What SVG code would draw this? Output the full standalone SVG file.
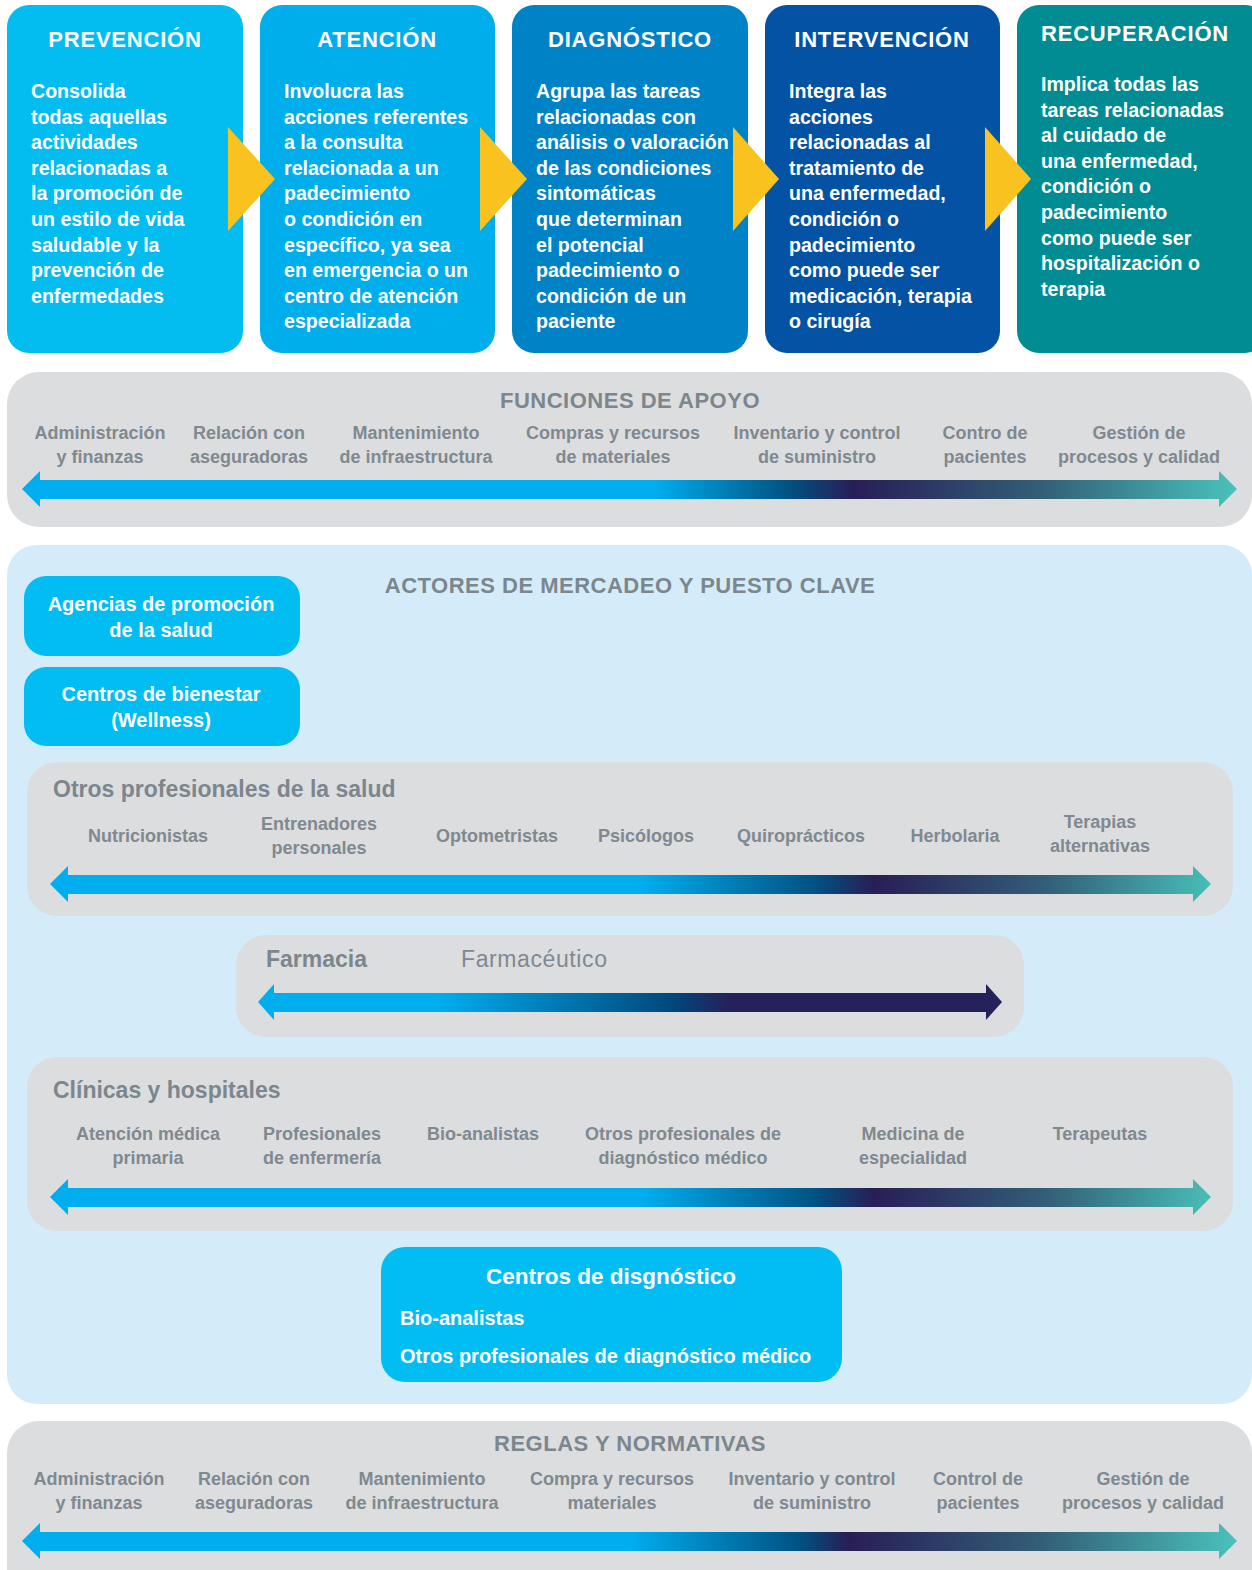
<svg xmlns="http://www.w3.org/2000/svg" width="1252" height="1570" viewBox="0 0 1252 1570">
<defs>
<style>
text{font-family:"Liberation Sans",Arial,sans-serif;}
.bt{font-weight:bold;font-size:22px;fill:#fff;letter-spacing:0.8px;text-anchor:middle}
.bb{font-weight:bold;font-size:19.6px;fill:#fff}
.st{font-weight:bold;font-size:22px;fill:#7B868D;letter-spacing:0.5px;text-anchor:middle}
.lb{font-weight:bold;font-size:18px;fill:#7F8990;text-anchor:middle}
.gt{font-weight:bold;font-size:23px;fill:#7B868D}
.pl{font-weight:bold;font-size:20px;fill:#fff;text-anchor:middle}
.panel{fill:#DCDDDF}
.yel{fill:#F9C21F}
</style>
<linearGradient id="gFun" gradientUnits="userSpaceOnUse" x1="22" y1="0" x2="1237" y2="0">
<stop offset="0" stop-color="#00AEEF"/><stop offset="0.52" stop-color="#00AEEF"/><stop offset="0.63" stop-color="#005283"/><stop offset="0.685" stop-color="#281E56"/><stop offset="0.84" stop-color="#335F78"/><stop offset="1" stop-color="#4AC2BB"/>
</linearGradient>
<linearGradient id="gOtr" gradientUnits="userSpaceOnUse" x1="50" y1="0" x2="1210" y2="0">
<stop offset="0" stop-color="#00AEEF"/><stop offset="0.51" stop-color="#00AEEF"/><stop offset="0.66" stop-color="#005283"/><stop offset="0.71" stop-color="#281E56"/><stop offset="0.86" stop-color="#335F78"/><stop offset="1" stop-color="#48BDB7"/>
</linearGradient>
<linearGradient id="gFar" gradientUnits="userSpaceOnUse" x1="258" y1="0" x2="1002" y2="0">
<stop offset="0" stop-color="#00AEEF"/><stop offset="0.24" stop-color="#00AEEF"/><stop offset="0.56" stop-color="#00477A"/><stop offset="0.63" stop-color="#25215B"/><stop offset="1" stop-color="#25215B"/>
</linearGradient>
<linearGradient id="gReg" gradientUnits="userSpaceOnUse" x1="22" y1="0" x2="1237" y2="0">
<stop offset="0" stop-color="#00AEEF"/><stop offset="0.5" stop-color="#00AEEF"/><stop offset="0.64" stop-color="#005283"/><stop offset="0.68" stop-color="#281E56"/><stop offset="0.84" stop-color="#335F78"/><stop offset="1" stop-color="#4AC2BB"/>
</linearGradient>
</defs>
<rect width="1252" height="1570" fill="#fff"/>

<!-- Top stage boxes -->
<g id="prevencion">
<rect x="7" y="5" width="236" height="348" rx="22" fill="#03BDF0"/>
<text class="bt" x="125" y="47">PREVENCIÓN</text>
<text class="bb" x="31" y="98"><tspan x="31">Consolida</tspan><tspan x="31" dy="25.6">todas aquellas</tspan><tspan x="31" dy="25.6">actividades</tspan><tspan x="31" dy="25.6">relacionadas a</tspan><tspan x="31" dy="25.6">la promoción de</tspan><tspan x="31" dy="25.6">un estilo de vida</tspan><tspan x="31" dy="25.6">saludable y la</tspan><tspan x="31" dy="25.6">prevención de</tspan><tspan x="31" dy="25.6">enfermedades</tspan></text>
</g>
<g id="atencion">
<rect x="260" y="5" width="235" height="348" rx="22" fill="#00AEEB"/>
<text class="bt" x="377" y="47">ATENCIÓN</text>
<text class="bb" x="284" y="98"><tspan x="284">Involucra las</tspan><tspan x="284" dy="25.6">acciones referentes</tspan><tspan x="284" dy="25.6">a la consulta</tspan><tspan x="284" dy="25.6">relacionada a un</tspan><tspan x="284" dy="25.6">padecimiento</tspan><tspan x="284" dy="25.6">o condición en</tspan><tspan x="284" dy="25.6">específico, ya sea</tspan><tspan x="284" dy="25.6">en emergencia o un</tspan><tspan x="284" dy="25.6">centro de atención</tspan><tspan x="284" dy="25.6">especializada</tspan></text>
</g>
<g id="diagnostico">
<rect x="512" y="5" width="236" height="348" rx="22" fill="#0082C6"/>
<text class="bt" x="630" y="47">DIAGNÓSTICO</text>
<text class="bb" x="536" y="98"><tspan x="536">Agrupa las tareas</tspan><tspan x="536" dy="25.6">relacionadas con</tspan><tspan x="536" dy="25.6">análisis o valoración</tspan><tspan x="536" dy="25.6">de las condiciones</tspan><tspan x="536" dy="25.6">sintomáticas</tspan><tspan x="536" dy="25.6">que determinan</tspan><tspan x="536" dy="25.6">el potencial</tspan><tspan x="536" dy="25.6">padecimiento o</tspan><tspan x="536" dy="25.6">condición de un</tspan><tspan x="536" dy="25.6">paciente</tspan></text>
</g>
<g id="intervencion">
<rect x="765" y="5" width="235" height="348" rx="22" fill="#0352A3"/>
<text class="bt" x="882" y="47">INTERVENCIÓN</text>
<text class="bb" x="789" y="98"><tspan x="789">Integra las</tspan><tspan x="789" dy="25.6">acciones</tspan><tspan x="789" dy="25.6">relacionadas al</tspan><tspan x="789" dy="25.6">tratamiento de</tspan><tspan x="789" dy="25.6">una enfermedad,</tspan><tspan x="789" dy="25.6">condición o</tspan><tspan x="789" dy="25.6">padecimiento</tspan><tspan x="789" dy="25.6">como puede ser</tspan><tspan x="789" dy="25.6">medicación, terapia</tspan><tspan x="789" dy="25.6">o cirugía</tspan></text>
</g>
<g id="recuperacion">
<rect x="1017" y="5" width="250" height="348" rx="22" fill="#008C92"/>
<text class="bt" x="1135" y="41">RECUPERACIÓN</text>
<text class="bb" x="1041" y="91"><tspan x="1041">Implica todas las</tspan><tspan x="1041" dy="25.6">tareas relacionadas</tspan><tspan x="1041" dy="25.6">al cuidado de</tspan><tspan x="1041" dy="25.6">una enfermedad,</tspan><tspan x="1041" dy="25.6">condición o</tspan><tspan x="1041" dy="25.6">padecimiento</tspan><tspan x="1041" dy="25.6">como puede ser</tspan><tspan x="1041" dy="25.6">hospitalización o</tspan><tspan x="1041" dy="25.6">terapia</tspan></text>
</g>

<!-- Funciones de apoyo -->
<g id="funciones">
<rect class="panel" x="7" y="372" width="1245" height="155" rx="32"/>
<text class="st" x="630" y="408">FUNCIONES DE APOYO</text>
<text class="lb" y="439"><tspan x="100">Administración</tspan><tspan x="100" dy="24">y finanzas</tspan></text>
<text class="lb" y="439"><tspan x="249">Relación con</tspan><tspan x="249" dy="24">aseguradoras</tspan></text>
<text class="lb" y="439"><tspan x="416">Mantenimiento</tspan><tspan x="416" dy="24">de infraestructura</tspan></text>
<text class="lb" y="439"><tspan x="613">Compras y recursos</tspan><tspan x="613" dy="24">de materiales</tspan></text>
<text class="lb" y="439"><tspan x="817">Inventario y control</tspan><tspan x="817" dy="24">de suministro</tspan></text>
<text class="lb" y="439"><tspan x="985">Contro de</tspan><tspan x="985" dy="24">pacientes</tspan></text>
<text class="lb" y="439"><tspan x="1139">Gestión de</tspan><tspan x="1139" dy="24">procesos y calidad</tspan></text>
</g>

<!-- Actores de mercadeo -->
<g id="actores">
<rect x="7" y="545" width="1245" height="859" rx="30" fill="#D4ECF9"/>
<text class="st" x="630" y="593">ACTORES DE MERCADEO Y PUESTO CLAVE</text>
</g>
<g id="agencias">
<rect x="24" y="576" width="276" height="80" rx="22" fill="#02BDF1"/>
<text class="pl" y="611"><tspan x="161">Agencias de promoción</tspan><tspan x="161" dy="25.5">de la salud</tspan></text>
</g>
<g id="centros-bienestar">
<rect x="24" y="667" width="276" height="79" rx="22" fill="#02BDF1"/>
<text class="pl" y="701"><tspan x="161">Centros de bienestar</tspan><tspan x="161" dy="26">(Wellness)</tspan></text>
</g>
<g id="otros-profesionales">
<rect class="panel" x="27" y="762" width="1206" height="154" rx="30"/>
<text class="gt" x="53" y="797">Otros profesionales de la salud</text>
<text class="lb" x="148" y="842">Nutricionistas</text>
<text class="lb" y="830"><tspan x="319">Entrenadores</tspan><tspan x="319" dy="24">personales</tspan></text>
<text class="lb" x="497" y="842">Optometristas</text>
<text class="lb" x="646" y="842">Psicólogos</text>
<text class="lb" x="801" y="842">Quiroprácticos</text>
<text class="lb" x="955" y="842">Herbolaria</text>
<text class="lb" y="828"><tspan x="1100">Terapias</tspan><tspan x="1100" dy="24">alternativas</tspan></text>
</g>
<g id="farmacia">
<rect class="panel" x="236" y="935" width="788" height="102" rx="30"/>
<text class="gt" x="266" y="967">Farmacia</text>
<text x="461" y="967" style="font-size:23px;fill:#7F8990;letter-spacing:0.6px">Farmacéutico</text>
</g>
<g id="clinicas">
<rect class="panel" x="27" y="1057" width="1206" height="174" rx="30"/>
<text class="gt" x="53" y="1098">Clínicas y hospitales</text>
<text class="lb" y="1140"><tspan x="148">Atención médica</tspan><tspan x="148" dy="24">primaria</tspan></text>
<text class="lb" y="1140"><tspan x="322">Profesionales</tspan><tspan x="322" dy="24">de enfermería</tspan></text>
<text class="lb" x="483" y="1140">Bio-analistas</text>
<text class="lb" y="1140"><tspan x="683">Otros profesionales de</tspan><tspan x="683" dy="24">diagnóstico médico</tspan></text>
<text class="lb" y="1140"><tspan x="913">Medicina de</tspan><tspan x="913" dy="24">especialidad</tspan></text>
<text class="lb" x="1100" y="1140">Terapeutas</text>
</g>
<g id="centros-diagnostico">
<rect x="381" y="1247" width="461" height="135" rx="24" fill="#02BDF1"/>
<text class="pl" x="611" y="1284" style="font-size:22.5px">Centros de disgnóstico</text>
<text class="bb" x="400" y="1325" style="font-size:20px">Bio-analistas</text>
<text class="bb" x="400" y="1363" style="font-size:20px">Otros profesionales de diagnóstico médico</text>
</g>

<!-- Reglas y normativas -->
<g id="reglas">
<rect class="panel" x="7" y="1421" width="1245" height="180" rx="32"/>
<text class="st" x="630" y="1451">REGLAS Y NORMATIVAS</text>
<text class="lb" y="1485"><tspan x="99">Administración</tspan><tspan x="99" dy="24">y finanzas</tspan></text>
<text class="lb" y="1485"><tspan x="254">Relación con</tspan><tspan x="254" dy="24">aseguradoras</tspan></text>
<text class="lb" y="1485"><tspan x="422">Mantenimiento</tspan><tspan x="422" dy="24">de infraestructura</tspan></text>
<text class="lb" y="1485"><tspan x="612">Compra y recursos</tspan><tspan x="612" dy="24">materiales</tspan></text>
<text class="lb" y="1485"><tspan x="812">Inventario y control</tspan><tspan x="812" dy="24">de suministro</tspan></text>
<text class="lb" y="1485"><tspan x="978">Control de</tspan><tspan x="978" dy="24">pacientes</tspan></text>
<text class="lb" y="1485"><tspan x="1143">Gestión de</tspan><tspan x="1143" dy="24">procesos y calidad</tspan></text>
</g>

<!-- Connectors -->
<g id="connectors">
<polygon class="yel" points="228,127 275,179 228,231"/>
<polygon class="yel" points="480,127 527,179 480,231"/>
<polygon class="yel" points="733,127 779,179 733,231"/>
<polygon class="yel" points="985,127 1031,179 985,231"/>
<path fill="url(#gFun)" d="M22,489 L40,471 L40,480 L1219,480 L1219,471 L1237,489 L1219,507 L1219,499 L40,499 L40,507 Z"/>
<path fill="url(#gOtr)" d="M50,884 L68,866 L68,875 L1193,875 L1193,866 L1211,884 L1193,902 L1193,894 L68,894 L68,902 Z"/>
<path fill="url(#gFar)" d="M258,1002 L274,984 L274,993 L986,993 L986,984 L1002,1002 L986,1020 L986,1012 L274,1012 L274,1020 Z"/>
<path fill="url(#gOtr)" d="M50,1197 L68,1179 L68,1188 L1193,1188 L1193,1179 L1211,1197 L1193,1215 L1193,1207 L68,1207 L68,1215 Z"/>
<path fill="url(#gReg)" d="M22,1541 L40,1523 L40,1532 L1219,1532 L1219,1523 L1237,1541 L1219,1559 L1219,1551 L40,1551 L40,1559 Z"/>
</g>
</svg>
